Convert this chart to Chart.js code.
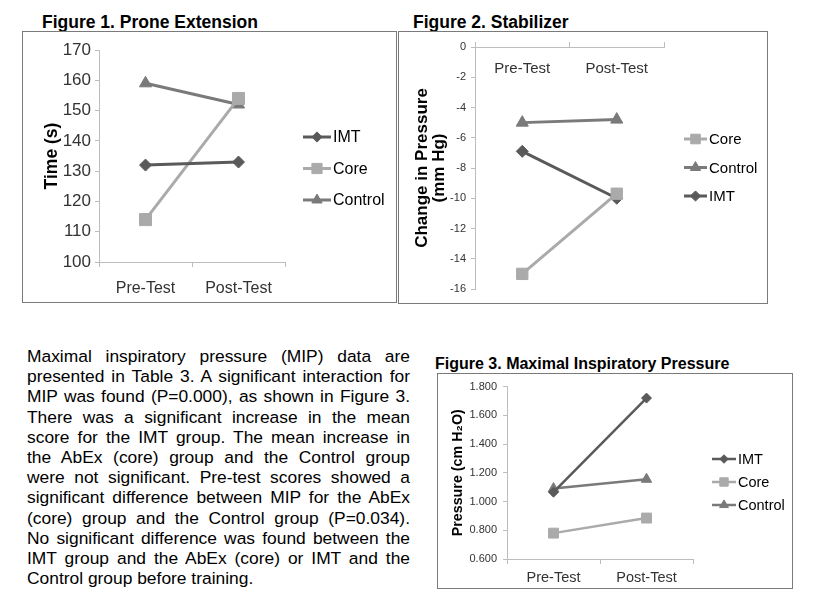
<!DOCTYPE html>
<html>
<head>
<meta charset="utf-8">
<script src="https://cdn.jsdelivr.net/npm/chart.js@4"></script>
<style>
  body { margin: 0; background: #fff; font-family: "Liberation Sans", Arial, sans-serif; color: #000; }
  .page { position: relative; width: 821px; height: 612px; overflow: hidden; }
  .title { position: absolute; font-weight: bold; white-space: nowrap; }
  .box { position: absolute; border: 1px solid #7a7a7a; box-sizing: border-box; }
  .box canvas { position: absolute; left: 0; top: 0; }
  .para { position: absolute; left: 27px; top: 346px; width: 383px; font-size: 17.4px; line-height: 20.2px; }
  .para div { text-align: justify; text-align-last: justify; white-space: nowrap; }
  .para div.last { text-align-last: left; }
</style>
</head>
<body>
<div class="page">
  <div class="title" style="left:42px; top:12px; font-size:17.5px;">Figure 1. Prone Extension</div>
  <div class="box" style="left:22px; top:31px; width:375px; height:272px;"><canvas id="fig1"></canvas></div>

  <div class="title" style="left:413px; top:12px; font-size:17.5px;">Figure 2. Stabilizer</div>
  <div class="box" style="left:398px; top:31px; width:370px; height:273px;"><canvas id="fig2"></canvas></div>

  <div class="para" id="para"></div>

  <div class="title" style="left:435px; top:355px; font-size:16px;">Figure 3. Maximal Inspiratory Pressure</div>
  <div class="box" style="left:437px; top:373px; width:356px; height:216px;"><canvas id="fig3"></canvas></div>
</div>

<script>
/* ── Data ─────────────────────────────────────────────────────────── */
const phases = ["Pre-Test", "Post-Test"];

// Figure 1 — Prone Extension, time (s)
const proneImt     = [132, 133];
const proneCore    = [114, 154];
const proneControl = [159, 152];

// Figure 2 — Stabilizer, change in pressure (mm Hg)
const stabCore    = [-15, -9.7];
const stabControl = [-5, -4.8];
const stabImt     = [-6.9, -10];

// Figure 3 — Maximal inspiratory pressure (cm H2O)
const mipImt     = [1.065, 1.72];
const mipCore    = [0.78, 0.885];
const mipControl = [1.09, 1.155];

const paraLines = [
  "Maximal inspiratory pressure (MIP) data are",
  "presented in Table 3. A significant interaction for",
  "MIP was found (P=0.000), as shown in Figure 3.",
  "There was a significant increase in the mean",
  "score for the IMT group. The mean increase in",
  "the AbEx (core) group and the Control group",
  "were not significant. Pre-test scores showed a",
  "significant difference between MIP for the AbEx",
  "(core) group and the Control group (P=0.034).",
  "No significant difference was found between the",
  "IMT group and the AbEx (core) or IMT and the",
  "Control group before training."
];

/* ── Paragraph ────────────────────────────────────────────────────── */
const para = document.getElementById("para");
paraLines.forEach((t, i) => {
  const d = document.createElement("div");
  d.textContent = t;
  if (i === paraLines.length - 1) d.className = "last";
  para.appendChild(d);
});

/* ── Shared styles ────────────────────────────────────────────────── */
const FONT = "'Liberation Sans', Arial, sans-serif";
const styles = {
  IMT:     { color: "#5a5a5a", point: "rectRot" },
  Core:    { color: "#aaaaaa", point: "rect" },
  Control: { color: "#7a7a7a", point: "triangle" },
};
const axisColor = "#bdbdbd";
const tickColor = "#333333";

function series(name, data, scaleR, width) {
  const s = styles[name];
  return {
    label: name,
    data: data,
    borderColor: s.color,
    backgroundColor: s.color,
    pointStyle: s.point,
    pointRadius: scaleR[s.point],
    pointHoverRadius: scaleR[s.point],
    pointBorderWidth: 1,
    borderWidth: width,
    tension: 0,
  };
}

/* Excel-like legend: short line with marker in the middle, then label */
const lineLegend = {
  id: "lineLegend",
  afterDraw(chart, args, opts) {
    const ctx = chart.ctx;
    ctx.save();
    chart.data.datasets.forEach((ds, i) => {
      const y = opts.y + i * opts.gap;
      ctx.strokeStyle = ds.borderColor;
      ctx.lineWidth = ds.borderWidth;
      ctx.beginPath();
      ctx.moveTo(opts.x, y);
      ctx.lineTo(opts.x + opts.len, y);
      ctx.stroke();
      ctx.fillStyle = ds.backgroundColor;
      ctx.lineWidth = 1;
      Chart.helpers.drawPoint(ctx, { pointStyle: ds.pointStyle, radius: ds.pointRadius * opts.mscale, borderWidth: 1 },
        opts.x + opts.len / 2, y);
      ctx.fillStyle = "#000";
      ctx.font = opts.size + "px " + FONT;
      ctx.textBaseline = "middle";
      ctx.textAlign = "left";
      ctx.fillText(ds.label, opts.x + opts.len + 2, y + 1);
    });
    ctx.restore();
  },
};

/* Category labels drawn inside the plot under a top axis (figure 2) */
const innerLabels = {
  id: "innerLabels",
  afterDraw(chart, args, opts) {
    if (!opts.y) return;
    const ctx = chart.ctx, xs = chart.scales.x;
    ctx.save();
    ctx.fillStyle = tickColor;
    ctx.font = opts.size + "px " + FONT;
    ctx.textAlign = "center";
    ctx.textBaseline = "middle";
    chart.data.labels.forEach((l, i) => ctx.fillText(l, xs.getPixelForValue(i), opts.y));
    ctx.restore();
  },
};

function lineChart(id, cfg) {
  return new Chart(document.getElementById(id), {
    type: "line",
    data: { labels: phases, datasets: cfg.datasets },
    plugins: [lineLegend, innerLabels],
    options: {
      responsive: false,
      animation: false,
      devicePixelRatio: 1,
      layout: { padding: cfg.padding },
      plugins: {
        legend: { display: false },
        tooltip: { enabled: false },
        lineLegend: cfg.legend,
        innerLabels: cfg.inner || {},
      },
      scales: {
        x: {
          type: "category",
          position: cfg.xPos || "bottom",
          offset: true,
          border: { color: axisColor, width: 1 },
          grid: { offset: true, drawOnChartArea: false, drawTicks: true, tickLength: 5, color: axisColor },
          ticks: { display: !cfg.inner, color: tickColor, font: { family: FONT, size: cfg.xSize }, padding: cfg.xPad || 4, maxRotation: 0 },
          afterFit: (s) => { s.height = cfg.xHeight; },
        },
        y: {
          min: cfg.yMin, max: cfg.yMax,
          border: { color: axisColor, width: 1 },
          grid: { drawOnChartArea: false, drawTicks: true, tickLength: 4, color: axisColor },
          ticks: { stepSize: cfg.yStep, color: tickColor, font: { family: FONT, size: cfg.ySize }, padding: cfg.yPad,
                   callback: cfg.yFormat || ((v) => v) },
          title: { display: true, text: cfg.yTitle, color: "#000", padding: 0,
                   font: { family: FONT, size: cfg.yTitleSize, weight: "bold", lineHeight: cfg.yTitleLH } },
          afterFit: (s) => { s.width = cfg.yWidth; },
        },
      },
    },
  });
}

function sizeCanvas(id, w, h) {
  const c = document.getElementById(id);
  c.width = w; c.height = h;
  c.style.width = w + "px"; c.style.height = h + "px";
}

/* ── Figure 1 ─────────────────────────────────────────────────────── */
sizeCanvas("fig1", 373, 270);
const r1 = { rectRot: 6, rect: 8.5, triangle: 7 };
lineChart("fig1", {
  datasets: [
    series("IMT", proneImt, r1, 3),
    series("Core", proneCore, r1, 3),
    series("Control", proneControl, r1, 3),
  ],
  padding: { top: 18, right: 111, bottom: 0, left: 20 },
  yMin: 100, yMax: 170, yStep: 10, ySize: 17, yPad: 4,
  yTitle: "Time (s)", yTitleSize: 17.5, yTitleLH: 1.1,
  yWidth: 56, xHeight: 40, xSize: 16, xPad: 12,
  legend: { x: 280, y: 105, gap: 31.5, len: 28, size: 16, mscale: 0.85 },
});

/* ── Figure 2 ─────────────────────────────────────────────────────── */
sizeCanvas("fig2", 368, 271);
const r2 = { rectRot: 6, rect: 8, triangle: 7 };
lineChart("fig2", {
  datasets: [
    series("Core", stabCore, r2, 3),
    series("Control", stabControl, r2, 3),
    series("IMT", stabImt, r2, 3),
  ],
  padding: { top: 10, right: 103, bottom: 14, left: 15 },
  xPos: "top", xHeight: 5, xSize: 15,
  inner: { y: 37, size: 15 },
  yMin: -16, yMax: 0, yStep: 2, ySize: 11, yPad: 5,
  yTitle: ["Change in Pressure", "(mm Hg)"], yTitleSize: 17, yTitleLH: 1.0,
  yWidth: 61,
  legend: { x: 285, y: 107, gap: 28.5, len: 23, size: 15, mscale: 0.85 },
});

/* ── Figure 3 ─────────────────────────────────────────────────────── */
sizeCanvas("fig3", 354, 214);
const r3 = { rectRot: 5, rect: 7, triangle: 6 };
lineChart("fig3", {
  datasets: [
    series("IMT", mipImt, r3, 2.5),
    series("Core", mipCore, r3, 2.5),
    series("Control", mipControl, r3, 2.5),
  ],
  padding: { top: 12, right: 99, bottom: 0, left: 11 },
  yMin: 0.6, yMax: 1.8, yStep: 0.2, ySize: 11, yPad: 6,
  yFormat: (v) => v.toFixed(3),
  yTitle: "Pressure (cm H\u2082O)", yTitleSize: 14.3, yTitleLH: 1.2,
  yWidth: 58, xHeight: 29, xSize: 14.5, xPad: 5,
  legend: { x: 274, y: 85, gap: 23, len: 24, size: 14.5, mscale: 0.85 },
});
</script>
</body>
</html>
